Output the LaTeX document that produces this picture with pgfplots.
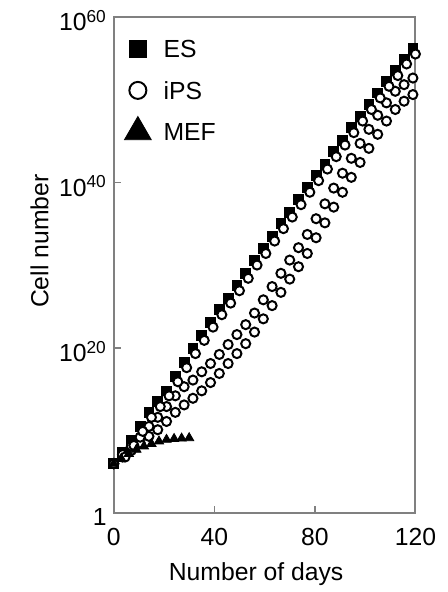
\documentclass[border=0pt]{standalone}
\usepackage{pgfplots}
\pgfplotsset{compat=1.18}
\usepackage{pgfplotstable}
\usepackage{fontspec}
\setmainfont{Liberation Sans}

% day, log10(cell number)
\pgfplotstableread{
d lg
0 6.0
3.5 7.4
7 8.8
10.5 10.5
14 12.2
17.5 13.5
21 14.8
24.5 16.5
28 18.2
31.5 19.9
35 21.5
38.5 23.1
42 24.6
45.5 26.0
49 27.5
52.5 29.0
56 30.6
59.5 32.0
63 33.5
66.5 35.0
70 36.4
73.5 37.9
77 39.4
80.5 40.8
84 42.2
87.5 43.7
91 45.1
94.5 46.6
98 48.0
101.5 49.4
105 50.8
108.5 52.2
112 53.5
115.5 54.9
119 56.2
}\es

\pgfplotstableread{
d lg
0 6.0
4.5 6.8
8 8.2
11.5 9.9
15 11.6
18.5 12.9
22 14.2
25.5 15.9
29 17.6
32.5 19.3
36 20.9
39.5 22.5
43 24.0
46.5 25.4
50 26.9
53.5 28.4
57 30.0
60.5 31.4
64 32.9
67.5 34.4
71 35.8
74.5 37.3
78 38.8
81.5 40.2
85 41.6
88.5 43.1
92 44.5
95.5 46.0
99 47.4
102.5 48.8
106 50.2
109.5 51.6
113 52.9
116.5 54.3
120 55.5
}\ipsa

\pgfplotstableread{
d lg
0 6.0
3.5 7.1
7 8.1
10.5 9.2
14 10.5
17.5 11.6
21 12.9
24.5 14.2
28 15.3
31.5 16.1
35 17.1
38.5 18.1
42 19.2
45.5 20.4
49 21.6
52.5 22.8
56 24.2
59.5 25.8
63 27.4
66.5 29.0
70 30.6
73.5 32.1
77 33.7
80.5 35.6
84 37.4
87.5 39.3
91 41.1
94.5 42.9
98 44.7
101.5 46.4
105 48.1
108.5 49.6
112 51.0
115.5 51.8
119 52.6
}\ipsb

\pgfplotstableread{
d lg
0 6.0
3.5 6.8
7 7.6
10.5 8.5
14 9.3
17.5 10.1
21 11.1
24.5 12.2
28 13.1
31.5 13.9
35 14.8
38.5 15.8
42 16.9
45.5 18.1
49 19.3
52.5 20.5
56 21.9
59.5 23.5
63 25.1
66.5 26.7
70 28.3
73.5 29.8
77 31.4
80.5 33.3
84 35.1
87.5 37.0
91 38.8
94.5 40.6
98 42.4
101.5 44.1
105 45.8
108.5 47.4
112 48.8
115.5 49.8
119 50.6
}\ipsc

\pgfplotstableread{
d lg
0 6.0
3 6.6
6 7.2
9 7.7
12 8.1
15 8.4
18 8.7
21 8.9
24 9.0
27 9.05
30 9.1
}\mef

\begin{document}
\begin{tikzpicture}
\begin{axis}[
    scale only axis,
    width=152.5pt, height=251pt,
    xmin=0, xmax=120,
    ymode=log, ymin=1, ymax=1e60,
    xtick={0,40,80,120},
    ytick={1,1e20,1e40,1e60},
    yticklabels={1,10\textsuperscript{20},10\textsuperscript{40},10\textsuperscript{60}},
    yminorticks=false,
    tick pos=left, tick align=inside,
    major tick length=3.5pt,
    axis line style={black!50, line width=1pt},
    every tick/.style={black!50, line width=0.8pt},
    font=\fontsize{12.5}{15}\selectfont,
    /pgf/number format/assume math mode=true,
    xticklabel style={anchor=center, yshift=-12pt},
    yticklabel style={yshift=-2pt},
    xlabel={Number of days},
    ylabel={Cell number},
    xlabel style={at={(axis description cs:0.472,-0.122)}, anchor=center},
    ylabel style={at={(axis description cs:-0.246,0.548)}, anchor=center},
    clip=false,
    legend image code/.code={
        \path[draw=none, fill=none] (-8pt,-10.5pt) rectangle (13pt,10.5pt);
        \draw[#1, overlay] plot coordinates {(0pt,0pt)};
    },
    legend style={at={(axis description cs:0,1)}, anchor=north west,
        xshift=4pt, yshift=-5.5pt, draw=none, fill=none, inner sep=0pt,
        row sep=0pt, column sep=0pt,
        nodes={inner sep=0pt, text height=9pt, text depth=0pt}},
    legend cell align=left,
]
\addplot[only marks, mark=square*, mark size=2.5pt, black, forget plot]
    table[x=d, y expr=10^\thisrow{lg}] {\es};
\addplot[only marks, mark=*, mark size=2.3pt, black, line width=1pt,
    mark options={fill=white}, forget plot]
    table[x=d, y expr=10^\thisrow{lg}] {\ipsc};
\addplot[only marks, mark=*, mark size=2.3pt, black, line width=1pt,
    mark options={fill=white}, forget plot]
    table[x=d, y expr=10^\thisrow{lg}] {\ipsb};
\addplot[only marks, mark=*, mark size=2.3pt, black, line width=1pt,
    mark options={fill=white}, forget plot]
    table[x=d, y expr=10^\thisrow{lg}] {\ipsa};
\addplot[only marks, mark=triangle*, mark size=2.7pt, black, forget plot]
    table[x=d, y expr=10^\thisrow{lg}] {\mef};

\addlegendimage{only marks, mark=square*, mark size=4.5pt, black}
\addlegendentry{ES}
\addlegendimage{only marks, mark=*, mark size=4.3pt, black, line width=1pt, mark options={fill=white}}
\addlegendentry{iPS}
\addlegendimage{only marks, mark=triangle*, mark size=7.8pt, black}
\addlegendentry{MEF}
\end{axis}
\path (current axis.south west) ++(-57.5pt,-36.5pt)
      (current axis.north east) ++(16pt,8.5pt);
\end{tikzpicture}
\end{document}
